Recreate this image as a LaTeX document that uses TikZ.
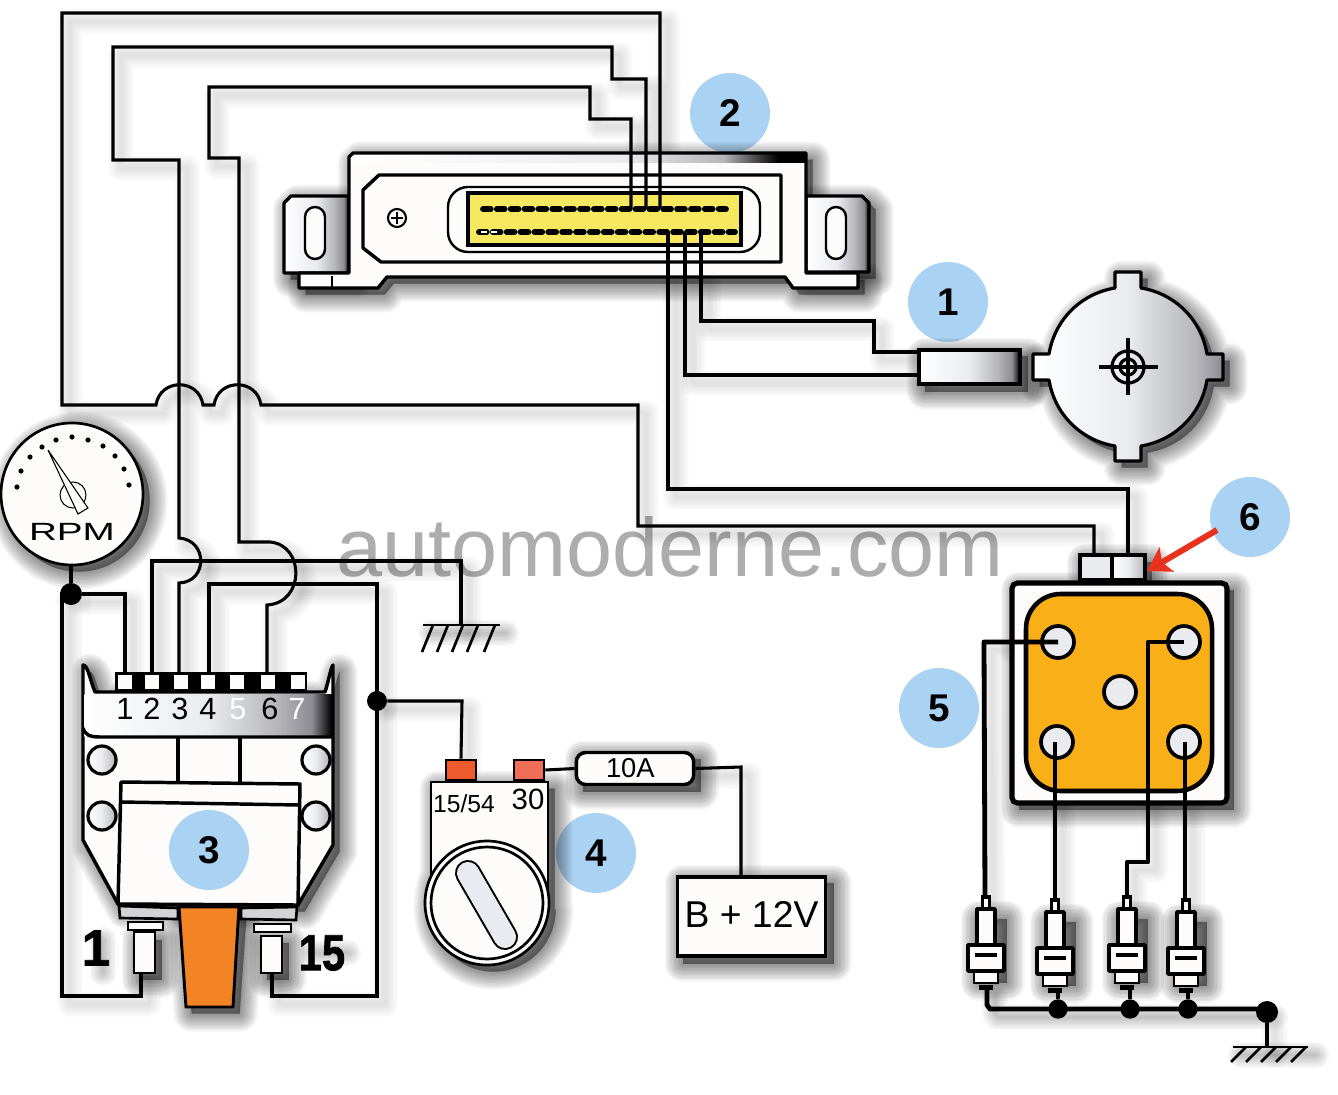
\documentclass[tikz,border=0pt]{standalone}
\usepackage{fontspec}
\setmainfont{Liberation Sans}
\newfontfamily\heavyfont[FakeBold=1.6]{Liberation Sans Bold}
\usetikzlibrary{arrows.meta}
\definecolor{paper}{HTML}{FDFCFA}
\definecolor{badgeblue}{HTML}{AAD2F2}
\definecolor{pinyellow}{HTML}{F7E95F}
\definecolor{amber}{HTML}{F9AF17}
\definecolor{plugorange}{HTML}{F28425}
\definecolor{termA}{HTML}{EF5A2D}
\definecolor{termB}{HTML}{F06E55}
\definecolor{slotgrey}{HTML}{E8ECF1}
\definecolor{mA}{HTML}{E9EBEE}
\definecolor{mB}{HTML}{B5B5BA}
\definecolor{mC}{HTML}{8C8C92}
\definecolor{wmark}{HTML}{ADADAD}
\definecolor{arrowred}{HTML}{E8321E}
\pgfdeclarehorizontalshading{bandshade}{100bp}{color(0bp)=(white);color(25bp)=(white);color(50bp)=(mA);color(64bp)=(mB);color(71bp)=(mC);color(75bp)=(black);color(100bp)=(black)}
\pgfdeclarehorizontalshading{stripshade}{100bp}{color(0bp)=(white);color(25bp)=(white);color(55bp)=(mA);color(66bp)=(mB);color(72bp)=(black);color(75bp)=(black);color(100bp)=(black)}
\pgfdeclarehorizontalshading{rotorshade}{100bp}{color(0bp)=(white);color(25bp)=(white);color(50bp)=(mA);color(68bp)=(mB);color(75bp)=(mC);color(100bp)=(mC)}
\pgfdeclarehorizontalshading{holeshade}{100bp}{color(0bp)=(white);color(25bp)=(white);color(50bp)=(mA);color(75bp)=(mB);color(100bp)=(mB)}
\pgfdeclarelayer{bg}
\pgfdeclarelayer{shad}
\pgfsetlayers{bg,shad,main}
\tikzset{
  wire/.style={draw=black,line width=2.3pt,line join=miter},
  heavy/.style={draw=black,line width=3.6pt,line join=round},
  outl/.style={draw=black,line width=2.6pt,fill=paper,line join=round},
  thin outl/.style={draw=black,line width=1.8pt,fill=paper},
  badge/.style={circle,fill=badgeblue,minimum size=60pt,inner sep=0pt,font=\fontsize{29}{29}\selectfont\bfseries},
  lbl/.style={inner sep=0pt,font=\fontsize{23}{23}\selectfont},
  bigno/.style={inner sep=0pt,font=\fontsize{38}{38}\selectfont\heavyfont},
  dotnode/.style={circle,fill=black,inner sep=0pt},
  redarrow/.style={draw=arrowred,line width=4.5pt,-{Stealth[length=17pt,width=21pt,inset=4pt]}},
}
\newcommand\softfill[1]{\foreach \w in {1,3,5,7,9,11,13,15,17,19,21,23,25,27}{\path[transform canvas={xshift=5pt,yshift=-5pt},draw=black,fill=black,opacity=.035,line width=\w pt,line join=round,line cap=round] #1;}}
\newcommand\softwire[1]{\foreach \w in {2,4,6,8,10,12,14,16,18,20}{\path[transform canvas={xshift=6pt,yshift=-6pt},draw=black,opacity=.012,line width=\w pt,line join=round,line cap=round] #1;}}
\newcommand\ecupath{(299,273)--(299,288)--(378,288)--(387,277)--(785,277)--(793,288)--(858,288)--(858,273)--(806,273)--(806,153)--(353,153)--(349,157)--(349,273)--cycle}
\newcommand\brackL{(349,196)--(291,196)--(284,203)--(284,273)--(349,273)--cycle}
\newcommand\brackR{(806,196)--(862,196)--(869,203)--(869,272)--(806,272)--cycle}
\newcommand\modpath{(83,665)..controls(88,665)and(90,680)..(95,692)--(325,692)..controls(329,680)and(330,670)..(333,665)--(333,845)--(298,905)--(118,904)--(83,840)--cycle}
\newcommand\rotorpath{(1115,288)--(1115,272)--(1141,272)--(1141,288)..controls(1175.2,293.6)and(1201.4,319.8)..(1207,354)--(1223,354)--(1223,380)--(1207,380)..controls(1201.4,414.2)and(1175.2,440.4)..(1141,446)--(1141,461)--(1115,461)--(1115,446)..controls(1080.8,440.4)and(1054.6,414.2)..(1049,380)--(1033,380)--(1033,354)--(1049,354)..controls(1054.6,319.8)and(1080.8,293.6)..(1115,288)--cycle}
\newcommand\switchpath{(431,782)--(548,782)--(548,903)--(549,903)..controls(549,937)and(521,965)..(487,965)..controls(453,965)and(425,937)..(425,903)..controls(425,885)and(428,875)..(431,868)--cycle}
% wires
\newcommand\wireA{(ecuT3)--(660,13)--(62,13)--(62,405)--(156,405)..controls(160,378)and(199,378)..(203,405)--(214,405)..controls(218,378)and(257,378)..(261,405)--(638,405)--(638,526)--(1094,526)--(plugL)}
\newcommand\wireB{(ecuT2)--(646,79)--(612,79)--(612,47)--(113,47)--(113,160)--(179,160)--(179,538)..controls(208,540)and(208,582)..(179,583)--(pinC)}
\newcommand\wireC{(ecuT1)--(631,119)--(590,119)--(590,87)--(209,87)--(209,158)--(239,158)--(239,542)--(270,542)..controls(305,545)and(305,603)..(267,605)--(pinF)}
\newcommand\wireD{(ecuB1)--(668,489)--(1128,489)--(plugR)}
\newcommand\wireE{(ecuB2)--(685,375)--(sensorA)}
\newcommand\wireF{(ecuB3)--(701,321)--(874,321)--(874,352)--(sensorB)}
\newcommand\wireG{(pinB)--(152,561)--(461,561)--(gndLtop)}
\newcommand\wireH{(pinD)--(209,584)--(377,584)--(377,996)--(272,996)--(termR)}
\newcommand\wireI{(dotR)--(462,701)--(term15.north)}
\newcommand\wireJ{(gaugeBot)--(dotL)}
\newcommand\wireK{(dotL)--(125,594)--(pinA)}
\newcommand\wireL{(dotL)--(62,594)--(62,996)--(141,996)--(termL)}
\newcommand\wireM{(term30.east)--(fuse.west)}
\newcommand\wireN{(fuse.east)--(741,767)--(741,876)}
\newcommand\wireO{(holeTL)--(984,642)--(plugAtop)}
\newcommand\wireP{(holeBL)--(plugBtop)}
\newcommand\wireQ{(holeTR)--(1148,642)--(1148,862)--(1127,862)--(plugCtop)}
\newcommand\wireR{(holeBR)--(plugDtop)}
\newcommand\gbus{(plugAtail)--(987,1005)--(990,1009)--(gndBus)}
\newcommand\plugshape[3]{% cx, dy, name
  \softfill{(#1-14,912+#2)rectangle(#1+14,976+#2)}
  \fill[black](#1-5,895+#2)rectangle(#1+5,909+#2);
  \fill[paper](#1-2,899+#2)rectangle(#1+2,909+#2);
  \draw[outl](#1-9,909+#2)rectangle(#1+9,945+#2);
  \draw[thin outl,line width=1.8pt](#1-12,972+#2)rectangle(#1+12,983+#2);
  \draw[outl](#1-18,945+#2)rectangle(#1+18,971+#2);
  \fill[black](#1-11,953+#2)rectangle(#1+11,957+#2);
  \fill[black](#1-7,985+#2)rectangle(#1+7,990+#2);
}
\begin{document}
\begin{tikzpicture}[x=0.75pt,y=-0.75pt]
\useasboundingbox (0,0) rectangle (1338,1095);
% ------- named points
\coordinate (ecuT1) at (631,209); \coordinate (ecuT2) at (646,209); \coordinate (ecuT3) at (660,209);
\coordinate (ecuB1) at (668,232); \coordinate (ecuB2) at (685,232); \coordinate (ecuB3) at (701,232);
\coordinate (sensorA) at (920,375); \coordinate (sensorB) at (920,352);
\coordinate (plugL) at (1094,555); \coordinate (plugR) at (1128,555);
\coordinate (pinA) at (125,674); \coordinate (pinB) at (152,674); \coordinate (pinC) at (179,674); \coordinate (pinD) at (209,674); \coordinate (pinF) at (267,674);
\coordinate (gndLtop) at (461,625); \coordinate (gndRtop) at (1267,1047);
\coordinate (gndBus) at (1267,1009);
\coordinate (termL) at (141,973); \coordinate (termR) at (272,973);
\coordinate (gaugeBot) at (71,565);
\coordinate (holeTL) at (1058,642); \coordinate (holeTR) at (1184,642); \coordinate (holeBL) at (1055,742); \coordinate (holeBR) at (1185,742);
\coordinate (plugAtop) at (985,897); \coordinate (plugBtop) at (1055,898); \coordinate (plugCtop) at (1127,897); \coordinate (plugDtop) at (1185,898);
\coordinate (plugAtail) at (987,988);
\coordinate (plugBtail) at (1058,991); \coordinate (plugCtail) at (1130,988); \coordinate (plugDtail) at (1188,991);
\coordinate (arrowtail) at (1217,530); \coordinate (arrowtip) at (1147,571);
% ------- background
\begin{pgfonlayer}{bg}
\fill[white](0,0)rectangle(1338,1095);
\node[badge] (b1) at (948,302) {1};
\node[badge] (b2) at (730,113) {2};
\node[badge] (b4) at (596,853) {4};
\node[badge] (b5) at (939,708) {5};
\node[badge] (b6) at (1250,517) {6};
\node[anchor=base west,inner sep=0pt,text=wmark,font=\fontsize{62.1}{62}\selectfont] (wm) at (336,576) {automoderne.com};
\end{pgfonlayer}
% ------- nodes used by wires
\node[draw=black,line width=2.6pt,fill=paper,rounded corners=7pt,minimum width=88pt,minimum height=24pt,inner sep=0pt,font=\fontsize{20.5}{20}\selectfont] (fuse) at (635,768.5) {\kern-7pt\raisebox{.5pt}{10A}};
\node[draw=black,line width=2.6pt,fill=paper,minimum width=111pt,minimum height=59pt,inner sep=0pt,font=\fontsize{28}{28}\selectfont] (batt) at (751.5,916.5) {\raisebox{3.5pt}{B + 12V}};
\node[draw=black,line width=1.6pt,fill=termA,minimum width=23pt,minimum height=15.5pt,inner sep=0pt] (term15) at (461,770) {};
\node[draw=black,line width=1.6pt,fill=termB,minimum width=23pt,minimum height=15.5pt,inner sep=0pt] (term30) at (529,770) {};
\node[dotnode,minimum size=16.5pt] (dotL) at (71,594) {};
\node[dotnode,minimum size=15pt] (dotR) at (377,701) {};
\node[dotnode,minimum size=14.5pt] (dotB) at (1058,1009) {};
\node[dotnode,minimum size=14.5pt] (dotC) at (1130,1009) {};
\node[dotnode,minimum size=14.5pt] (dotD) at (1188,1009) {};
\node[dotnode,minimum size=16.5pt] (dotGnd) at (1267,1012) {};
% ------- shadows
\begin{pgfonlayer}{shad}
\softwire{\wireA}\softwire{\wireB}\softwire{\wireC}\softwire{\wireD}\softwire{\wireE}\softwire{\wireF}
\softwire{\wireG}\softwire{\wireH}\softwire{\wireI}\softwire{\wireK}\softwire{\wireL}\softwire{\wireN}
\softwire{\wireO}\softwire{\wireP}\softwire{\wireQ}\softwire{\wireR}
\softwire{\gbus}\softwire{\gbus}\softwire{(dotGnd)--(gndRtop)}\softwire{(423,625)--(498,625)}\softwire{(423,625)--(498,625)}\softwire{(1233,1047)--(1308,1047)}\softwire{(1233,1047)--(1308,1047)}
\softfill{\ecupath}\softfill{\brackL}\softfill{\brackR}
\softfill{\modpath}
\softfill{(178,907)--(240,907)--(233,1007)--(185,1007)--cycle}
\softfill{(133,933)rectangle(155,973)}\softfill{(260,936)rectangle(282,973)}
\softfill{\switchpath}
\softfill{(576,752)rectangle(694,785)}\softfill{(676,876)rectangle(827,957)}
\softfill{(918,349)rectangle(1021,385)}\softfill{\rotorpath}
\softfill{(72,494) circle[radius=71]}
\softfill{(1012,583)rectangle(1227,803)}\softfill{(1078,555)rectangle(1145,580)}
\softwire{(71,594)--(71,595)}\softwire{(377,701)--(377,702)}
\softwire{(95,932)--(95,965)}\softwire{(95,932)--(95,965)}\softwire{(305,945)--(340,945)}\softwire{(305,945)--(340,945)}
\end{pgfonlayer}
% ------- ECU
\draw[outl,shade,shading=bandshade,line width=2.4pt] \brackL;
\draw[outl,shade,shading=bandshade,line width=2.4pt] \brackR;
\fill[paper]\ecupath;
\path[shade,shading=stripshade](351,155)rectangle(805,163);
\draw[draw=black,line width=2.6pt,line join=round]\ecupath;
\draw[black,line width=2pt](332,276)--(332,288);
\draw[thin outl,rounded corners=7.5pt](305,207)rectangle(325,259);
\draw[thin outl,rounded corners=7.5pt](826,207)rectangle(846,259);
\draw[outl](379,175)--(781,175)--(781,262)--(381,262)--(363,248)--(363,190)--cycle;
\draw[thin outl,rounded corners=15pt](448,187)rectangle(760,252);
\draw[draw=black,line width=3pt,fill=pinyellow](468,193)rectangle(741,245);
\draw[black,line width=4.4pt,line cap=round,dash pattern=on 5.8pt off 4.6pt](483,209)--(726,209);
\draw[black,line width=4.4pt,line cap=round,dash pattern=on 5.8pt off 4.6pt](479,232)--(735,232);
\draw[white,line width=.9pt](481,232)--(487,232)(491,232)--(497,232);
\draw[black,line width=1.6pt,fill=paper](397,218)circle[radius=9];
\draw[black,line width=1.6pt](391,218)--(403,218)(397,212)--(397,224);
% ------- rotor and sensor
\draw[outl,shade,shading=rotorshade,line width=2.4pt]\rotorpath;
\draw[black,line width=2.4pt](1128,367)circle[radius=16];
\draw[black,line width=2.4pt](1128,367)circle[radius=8];
\draw[black,line width=2.6pt](1099,367)--(1158,367)(1128,338)--(1128,395);
% ------- distributor
\draw[draw=black,line width=3.8pt,fill=paper,rounded corners=4pt](1012,583)rectangle(1227,803);
\draw[draw=black,line width=3.4pt,fill=amber,rounded corners=26pt](1026,594)rectangle(1212,791);
\draw[draw=black,line width=3pt,fill=mA](1080,555)rectangle(1112,580);
\draw[draw=black,line width=3pt,shade,shading=holeshade](1112,555)rectangle(1145,580);
\foreach \n/\p in {hTL/{1058,642},hTR/{1184,642},hCE/{1120,692},hBL/{1057,742},hBR/{1184,742}}{
  \draw[draw=black,line width=2.8pt,fill=mA](\p)circle[radius=16];
}
% ------- wires
\draw[wire]\wireA; \draw[wire]\wireB; \draw[wire]\wireC; \draw[wire]\wireD; \draw[wire]\wireE; \draw[wire]\wireF;
\draw[wire]\wireG; \draw[wire]\wireH; \draw[wire]\wireI; \draw[wire]\wireJ; \draw[wire]\wireK; \draw[wire]\wireL;
\draw[wire]\wireM; \draw[wire]\wireN;
\draw[heavy]\wireO; \draw[heavy]\wireP; \draw[heavy]\wireQ; \draw[heavy]\wireR;
\draw[heavy]\gbus;
\draw[wire](dotB)--(plugBtail); \draw[wire](dotC)--(plugCtail); \draw[wire](dotD)--(plugDtail);
\draw[wire](dotGnd)--(gndRtop);
% ------- sensor body over the wires
\path[draw=black,line width=2.8pt,shade,shading=bandshade](919,350)rectangle(1020,384);
% ------- grounds
\draw[black,line width=1.8pt](423,625)--(500,625);
\foreach \x in {433,448,463,478,495}{\draw[black,line width=2pt](\x,625)--(\x-11,652);}
\draw[black,line width=1.8pt](1233,1047)--(1308,1047);
\foreach \x in {1246,1261,1276,1291,1306}{\draw[black,line width=2pt](\x,1047)--(\x-15,1062);}
% ------- spark plugs
\plugshape{986}{0}{a}
\plugshape{1055}{3}{b}
\plugshape{1127}{0}{c}
\plugshape{1186}{3}{d}
% ------- gauge
\draw[draw=black,line width=2pt,fill=paper](72,494)circle[radius=71];
\foreach \p in {{17,487},{21,471},{30,457},{42,447},{56,440},{72,437},{88,440},{103,446},{115,456},{124,469},{129,485}}{
  \fill[black](\p)circle[radius=2.6];
}
\draw[black,line width=.8pt](73,495)circle[radius=13];
\draw[draw=black,line width=.8pt,fill=paper](48,450)--(88,508)--(78,514)--cycle;
\node[inner sep=0pt,font=\fontsize{18.7}{19}\selectfont] (rpm) at (72,532) {\scalebox{1.55}[1]{RPM}};
% ------- module
\draw[outl]\modpath;
\path[shade,shading=bandshade](84.5,694)rectangle(331.5,736);
\draw[black,line width=2.6pt](83,728)..controls(85,735)and(90,737)..(100,737)--(333,737);
\draw[black,line width=2.6pt](178,737)--(178,782)(240,737)--(240,783);
\foreach \c in {{102,760},{102,816},{316,760},{316,816}}{
  \draw[draw=black,line width=2.4pt,shade,shading=holeshade](\c)circle[radius=14];
}
\draw[outl,draw=black](121,782)--(300,784)--(298,905)--(118,904)--cycle;
\draw[black,line width=2.6pt](121,802)--(299,805);
\fill[black](115,672)rectangle(307,692);
\foreach \x in {125,152,181,208,237,268,298}{\fill[paper](\x-7,675)rectangle(\x+7,689);}
\node[lbl] (n1) at (125,709) {1};
\node[lbl] (n2) at (152,709) {2};
\node[lbl] (n3) at (180,709) {3};
\node[lbl] (n4) at (208,709) {4};
\node[lbl,text=white] (n5) at (238,709) {5};
\node[lbl] (n6) at (270,709) {6};
\node[lbl,text=white] (n7) at (297,709) {7};
% lower hardware
\draw[draw=black,line width=2pt,fill=mB!60](119,906)--(178,908)--(178,919)--(120,918)--cycle;
\draw[draw=black,line width=2pt,fill=mB!60](241,908)--(297,907)--(296,920)--(241,919)--cycle;
\draw[thin outl](128,922)rectangle(163,930);
\draw[thin outl](134,932)rectangle(155,973);
\draw[thin outl](254,924)rectangle(291,932);
\draw[thin outl](261,936)rectangle(282,973);
\draw[draw=black,line width=2.2pt,fill=plugorange](179,907)--(239,907)--(233,1007)--(186,1007)--cycle;
\node[badge] (b3) at (209,850) {3};
\node[bigno] (big1) at (96,948) {1};
\node[bigno] (big15) at (322,953) {\scalebox{.82}[1]{15}};
% ------- switch
\draw[draw=black,line width=2pt,fill=paper](431,782)--(548,782)--(548,905)--(431,905)--cycle;
\draw[draw=black,line width=2pt,fill=paper](487,903)circle[radius=62];
\draw[draw=black,line width=2pt,fill=paper](487,903)circle[radius=56];
\draw[black,line width=19.5pt,line cap=round](468,873)--(505,937);
\draw[slotgrey,line width=16.5pt,line cap=round](468,873)--(505,937);
\node[inner sep=0pt,font=\fontsize{18.5}{19}\selectfont] (t1554) at (464,804) {15/54};
\node[inner sep=0pt,font=\fontsize{22}{22}\selectfont] (t30) at (528,799) {30};
% ------- arrow
\draw[redarrow](arrowtail)--(arrowtip);
\end{tikzpicture}
\end{document}
